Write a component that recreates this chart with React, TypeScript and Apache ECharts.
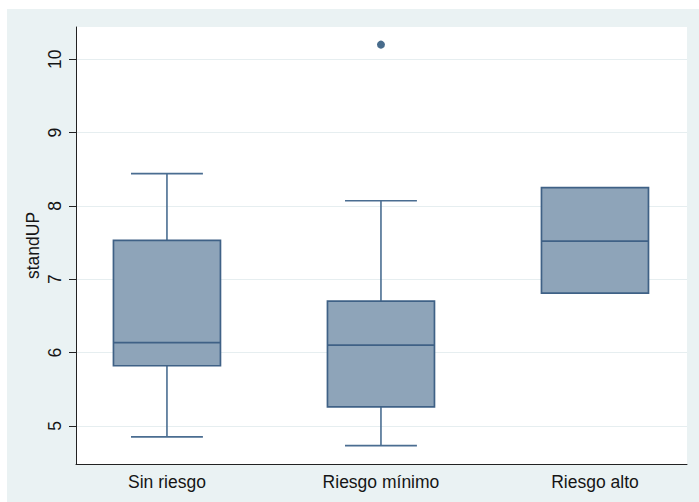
import React, { useEffect, useRef } from "react";
import * as echarts from "echarts";

const categories = ["Sin riesgo", "Riesgo mínimo", "Riesgo alto"];
const mins = [4.85, 4.73, 6.81];
const q1s = [5.82, 5.26, 6.81];
const medians = [6.135, 6.1, 7.52];
const q3s = [7.53, 6.7, 8.25];
const maxs = [8.44, 8.07, 8.25];
const outliers = [[1, 10.2]];
const yTicks = [5, 6, 7, 8, 9, 10];
const xPositions = [0, 1, 2];

const FONT = "'Liberation Sans', Arial, sans-serif";
const TEXT = "#151515";
const AXIS = "#222222";
const FILL = "#8ea4b9";
const STROKE = "#3f6186";
const WHISKER = "#4a6d91";

export default function App() {
  const ref = useRef<HTMLDivElement>(null);
  useEffect(() => {
    const chart = echarts.init(ref.current!, null, { renderer: "svg" });
    const boxData = categories.map((_, i) => [
      xPositions[i],
      mins[i],
      q1s[i],
      medians[i],
      q3s[i],
      maxs[i],
    ]);
    chart.setOption({
      animation: false,
      backgroundColor: "#eaf2f3",
      grid: {
        left: 69,
        top: 18,
        right: 12,
        bottom: 38,
        show: true,
        backgroundColor: "#ffffff",
        borderWidth: 0,
        outerBoundsMode: "none",
      },
      xAxis: {
        type: "value",
        min: -0.425,
        max: 2.43,
        axisLine: { show: true, onZero: false, lineStyle: { color: AXIS, width: 1 } },
        axisTick: { show: false },
        splitLine: { show: false },
        axisLabel: {
          customValues: xPositions,
          formatter: (v: number) => categories[Math.round(v)] ?? "",
          fontSize: 17.5,
          color: TEXT,
          fontFamily: FONT,
          margin: 9,
        },
      },
      yAxis: {
        type: "value",
        min: 4.48,
        max: 10.44,
        name: "standUP",
        nameLocation: "middle",
        nameRotate: 90,
        nameGap: 34,
        nameMoveOverlap: false,
        nameTextStyle: { fontSize: 17.5, color: TEXT, fontFamily: FONT },
        axisLine: { show: true, onZero: false, lineStyle: { color: AXIS, width: 1 } },
        axisTick: {
          show: true,
          customValues: yTicks,
          length: 7,
          lineStyle: { color: AXIS, width: 1 },
        },
        axisLabel: {
          customValues: yTicks,
          rotate: 90,
          margin: 12,
          fontSize: 17.5,
          color: TEXT,
          fontFamily: FONT,
        },
        splitLine: { show: true, lineStyle: { color: "#e6eef0", width: 1 } },
      },
      series: [
        {
          type: "custom",
          data: boxData,
          encode: { x: 0, y: [1, 2, 3, 4, 5] },
          renderItem: (params: any, api: any) => {
            const x = api.value(0);
            const lo = api.coord([x, api.value(1)]);
            const q1 = api.coord([x, api.value(2)]);
            const md = api.coord([x, api.value(3)]);
            const q3 = api.coord([x, api.value(4)]);
            const hi = api.coord([x, api.value(5)]);
            const bw = api.size([0.5, 0])[0];
            const cw = api.size([0.336, 0])[0];
            const cx = md[0];
            const ls = { stroke: WHISKER, lineWidth: 1.6 };
            const children: any[] = [];
            if (hi[1] < q3[1] - 0.5) {
              children.push({ type: "line", shape: { x1: cx, y1: q3[1], x2: cx, y2: hi[1] }, style: ls });
              children.push({ type: "line", shape: { x1: cx - cw / 2, y1: hi[1], x2: cx + cw / 2, y2: hi[1] }, style: ls });
            }
            if (lo[1] > q1[1] + 0.5) {
              children.push({ type: "line", shape: { x1: cx, y1: q1[1], x2: cx, y2: lo[1] }, style: ls });
              children.push({ type: "line", shape: { x1: cx - cw / 2, y1: lo[1], x2: cx + cw / 2, y2: lo[1] }, style: ls });
            }
            children.push({
              type: "rect",
              shape: { x: cx - bw / 2, y: q3[1], width: bw, height: q1[1] - q3[1] },
              style: { fill: FILL, stroke: STROKE, lineWidth: 1.7 },
            });
            children.push({
              type: "line",
              shape: { x1: cx - bw / 2, y1: md[1], x2: cx + bw / 2, y2: md[1] },
              style: { stroke: STROKE, lineWidth: 1.7 },
            });
            return { type: "group", children };
          },
        },
        {
          type: "scatter",
          data: outliers,
          symbol: "circle",
          symbolSize: 8,
          itemStyle: { color: "#1a476f" },
        },
      ],
    });
    return () => chart.dispose();
  }, []);
  return (
    <div style={{ position: "fixed", left: 0, top: 0, width: 699, height: 502, background: "#ffffff" }}>
      <div ref={ref} style={{ position: "absolute", left: 7, top: 9, width: 692, height: 493 }} />
    </div>
  );
}
